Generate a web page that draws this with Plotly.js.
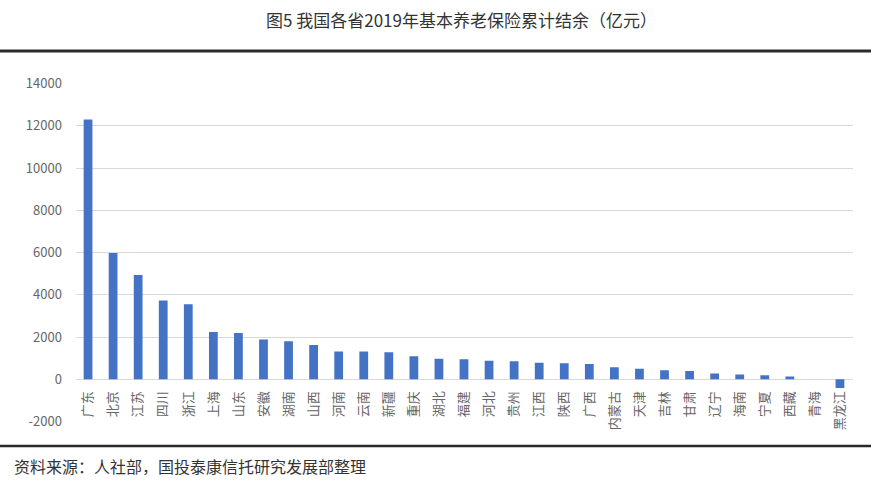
<!DOCTYPE html>
<html>
<head>
<meta charset="utf-8">
<script src="https://cdn.plot.ly/plotly-3.0.1.min.js"></script>
<style>html,body{margin:0;padding:0;background:#fff;}#chart{width:871px;height:487px;}</style>
</head>
<body>
<div id="chart"></div>
<script>
const provinces = ["广东","北京","江苏","四川","浙江","上海","山东","安徽","湖南","山西","河南","云南","新疆","重庆","湖北","福建","河北","贵州","江西","陕西","广西","内蒙古","天津","吉林","甘肃","辽宁","海南","宁夏","西藏","青海","黑龙江"];
const balance = [12300,5980,4930,3730,3550,2240,2190,1880,1800,1620,1310,1310,1280,1090,975,946,880,851,785,757,724,568,501,426,393,270,222,189,128,5,-410];
const yTicks = [-2000,0,2000,4000,6000,8000,10000,12000,14000];
const titleText = "图5 我国各省2019年基本养老保险累计结余（亿元）";
const sourceText = "资料来源：人社部，国投泰康信托研究发展部整理";

const W = 871, H = 487;
const px = v => v / W;
const py = v => 1 - v / H;
const FONT = "Noto Sans CJK SC, Noto Sans, sans-serif";

const trace = {
  type: "bar",
  x: provinces,
  y: balance,
  marker: {color: "#4472C4"},
  hoverinfo: "skip"
};

const layout = {
  width: W, height: H,
  margin: {l: 0, r: 0, t: 0, b: 0},
  paper_bgcolor: "#ffffff",
  plot_bgcolor: "#ffffff",
  showlegend: false,
  bargap: 0.65,
  font: {family: FONT, color: "#595959"},
  xaxis: {
    domain: [px(75.5), px(852.5)],
    anchor: "free",
    position: py(379),
    type: "category",
    tickangle: -90,
    tickfont: {size: 13, color: "#666666", family: FONT},
    ticks: "outside", ticklen: 6, tickcolor: "rgba(0,0,0,0)",
    showgrid: false, showline: false, zeroline: false,
    fixedrange: true
  },
  yaxis: {
    domain: [py(421.5), py(83.5)],
    range: [-2000, 14000],
    tickvals: yTicks,
    ticktext: yTicks.map(String),
    tickfont: {size: 13, color: "#666666", family: FONT},
    ticks: "outside", ticklen: 10, tickcolor: "rgba(0,0,0,0)",
    showgrid: true, gridcolor: "#d9d9d9", gridwidth: 1,
    zeroline: true, zerolinecolor: "#d9d9d9", zerolinewidth: 1,
    showline: false,
    fixedrange: true
  },
  shapes: [
    {type: "line", xref: "paper", yref: "paper", x0: 0, x1: 1, y0: py(51), y1: py(51),
     line: {color: "#2a2a2a", width: 3}},
    {type: "line", xref: "paper", yref: "paper", x0: 0, x1: 1, y0: py(446), y1: py(446),
     line: {color: "#2a2a2a", width: 2.5}}
  ],
  annotations: [
    {text: titleText, xref: "paper", yref: "paper", x: px(461), y: py(20),
     xanchor: "center", yanchor: "middle", showarrow: false,
     font: {size: 17, color: "#333333", family: FONT}},
    {text: sourceText, xref: "paper", yref: "paper", x: px(12), y: py(466),
     xanchor: "left", yanchor: "middle", showarrow: false,
     font: {size: 16, color: "#333333", family: FONT}}
  ]
};

Plotly.newPlot("chart", [trace], layout, {displayModeBar: false, staticPlot: true});
</script>
</body>
</html>
